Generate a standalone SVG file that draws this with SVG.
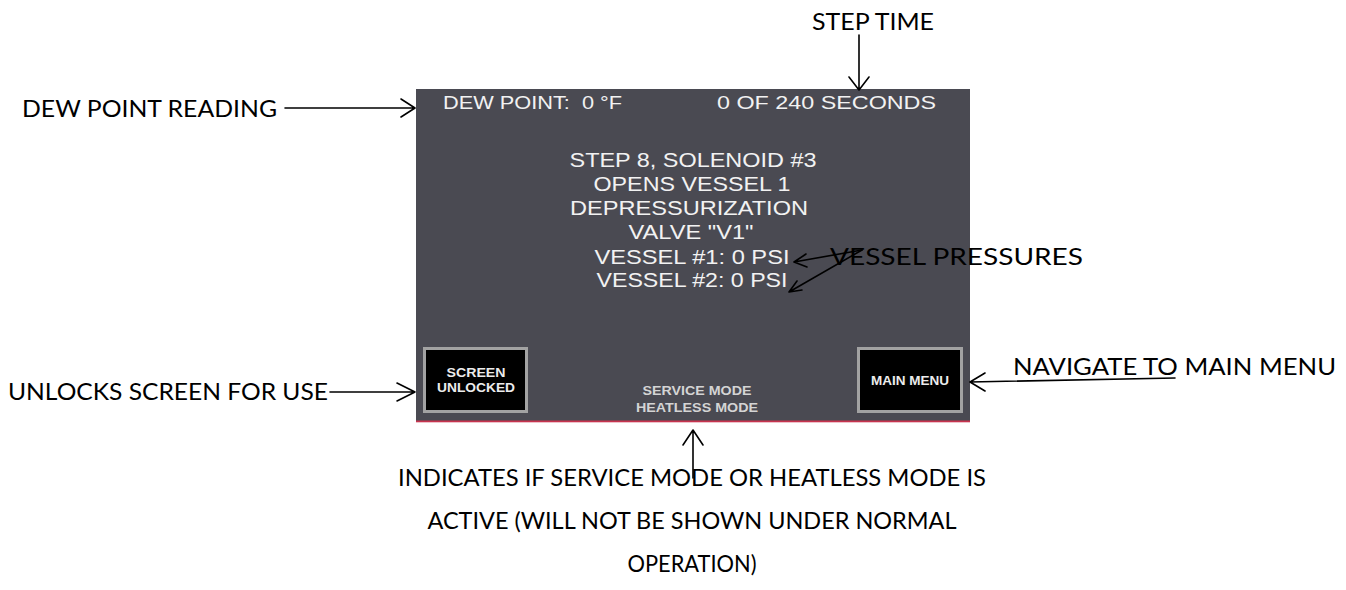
<svg xmlns="http://www.w3.org/2000/svg" width="1346" height="590" viewBox="0 0 1346 590">
  <style>
    .note { font-family: Lato, "Liberation Sans", sans-serif; font-size: 24px; fill: #000; }
    .hmi { font-family: "Liberation Sans", Arial, sans-serif; fill: #f2f2f2; }
    .big { font-size: 19.5px; }
    .top { font-size: 18px; }
    .btn { font-size: 12px; font-weight: bold; fill: #ececec; }
    .mode { font-size: 12px; font-weight: bold; fill: #d4d4d4; }
    .wire { stroke: #000; stroke-width: 1.6; fill: none; stroke-linecap: round; stroke-linejoin: round; }
  </style>
  <rect width="1346" height="590" fill="#ffffff"/>

  <!-- controller screen -->
  <g id="screen">
    <rect x="416" y="89" width="554" height="333" fill="#4a4a52"/>
    <rect x="416" y="420.5" width="554" height="1.8" fill="#c8344f"/>
    <text class="hmi top" x="443" y="109" textLength="179" lengthAdjust="spacingAndGlyphs" xml:space="preserve">DEW POINT:  0 °F</text>
    <text class="hmi top" x="717" y="109" textLength="219" lengthAdjust="spacingAndGlyphs">0 OF 240 SECONDS</text>
    <g text-anchor="middle">
      <text class="hmi big" x="693" y="167" textLength="247" lengthAdjust="spacingAndGlyphs">STEP 8, SOLENOID #3</text>
      <text class="hmi big" x="692" y="191" textLength="197" lengthAdjust="spacingAndGlyphs">OPENS VESSEL 1</text>
      <text class="hmi big" x="689" y="215" textLength="238" lengthAdjust="spacingAndGlyphs">DEPRESSURIZATION</text>
      <text class="hmi big" x="691" y="239" textLength="125" lengthAdjust="spacingAndGlyphs">VALVE "V1"</text>
      <text class="hmi big" x="692" y="264" textLength="195" lengthAdjust="spacingAndGlyphs">VESSEL #1: 0 PSI</text>
      <text class="hmi big" x="692" y="287" textLength="191" lengthAdjust="spacingAndGlyphs">VESSEL #2: 0 PSI</text>
    </g>
    <g text-anchor="middle">
      <text class="hmi mode" x="697" y="395" textLength="109" lengthAdjust="spacingAndGlyphs">SERVICE MODE</text>
      <text class="hmi mode" x="697" y="412" textLength="122" lengthAdjust="spacingAndGlyphs">HEATLESS MODE</text>
    </g>
  </g>

  <g id="btn-unlock">
    <rect x="423" y="347" width="105" height="66" fill="#a2a2a2"/>
    <rect x="426" y="350" width="99" height="60" fill="#000"/>
    <text class="hmi btn" x="476" y="377" text-anchor="middle" textLength="59" lengthAdjust="spacingAndGlyphs">SCREEN</text>
    <text class="hmi btn" x="476" y="392" text-anchor="middle" textLength="78" lengthAdjust="spacingAndGlyphs">UNLOCKED</text>
  </g>

  <g id="btn-menu">
    <rect x="857" y="347" width="106" height="66" fill="#a2a2a2"/>
    <rect x="860" y="350" width="100" height="60" fill="#000"/>
    <text class="hmi btn" x="910" y="385" text-anchor="middle" textLength="78" lengthAdjust="spacingAndGlyphs">MAIN MENU</text>
  </g>

  <!-- callout labels -->
  <g id="label-step-time"><text class="note" x="812" y="30" textLength="122" lengthAdjust="spacingAndGlyphs">STEP TIME</text></g>
  <g id="label-dew"><text class="note" x="22" y="117" textLength="255" lengthAdjust="spacingAndGlyphs">DEW POINT READING</text></g>
  <g id="label-vessel"><text class="note" x="830" y="265" textLength="253" lengthAdjust="spacingAndGlyphs">VESSEL PRESSURES</text></g>
  <g id="label-unlock"><text class="note" x="8" y="400" textLength="320" lengthAdjust="spacingAndGlyphs">UNLOCKS SCREEN FOR USE</text></g>
  <g id="label-menu"><text class="note" x="1013" y="375" textLength="323" lengthAdjust="spacingAndGlyphs">NAVIGATE TO MAIN MENU</text></g>
  <g id="label-mode" text-anchor="middle">
    <text class="note" x="692" y="486" textLength="588" lengthAdjust="spacingAndGlyphs">INDICATES IF SERVICE MODE OR HEATLESS MODE IS</text>
    <text class="note" x="692" y="529" textLength="529" lengthAdjust="spacingAndGlyphs">ACTIVE (WILL NOT BE SHOWN UNDER NORMAL</text>
    <text class="note" x="692" y="572" textLength="129" lengthAdjust="spacingAndGlyphs">OPERATION)</text>
  </g>

  <!-- pointer arrows -->
  <g id="connectors">
    <path class="wire" d="M285,108 H415 M401,99 L415,108 L401,117"/>
    <path class="wire" d="M859,35 V90 M849,77 L859,90 L869,77"/>
    <path class="wire" d="M862,250 L794,262 M806,254 L794,262 L807,267"/>
    <path class="wire" d="M862,250 L789,292 M797,281 L789,292 L802,290"/>
    <path class="wire" d="M330,392 H415 M397,383 L415,392 L397,401"/>
    <path class="wire" d="M1175,378 L970,382 M985,373 L970,382 L985,391"/>
    <path class="wire" d="M693,478 V430 M683,445 L693,430 L703,445"/>
  </g>
</svg>
